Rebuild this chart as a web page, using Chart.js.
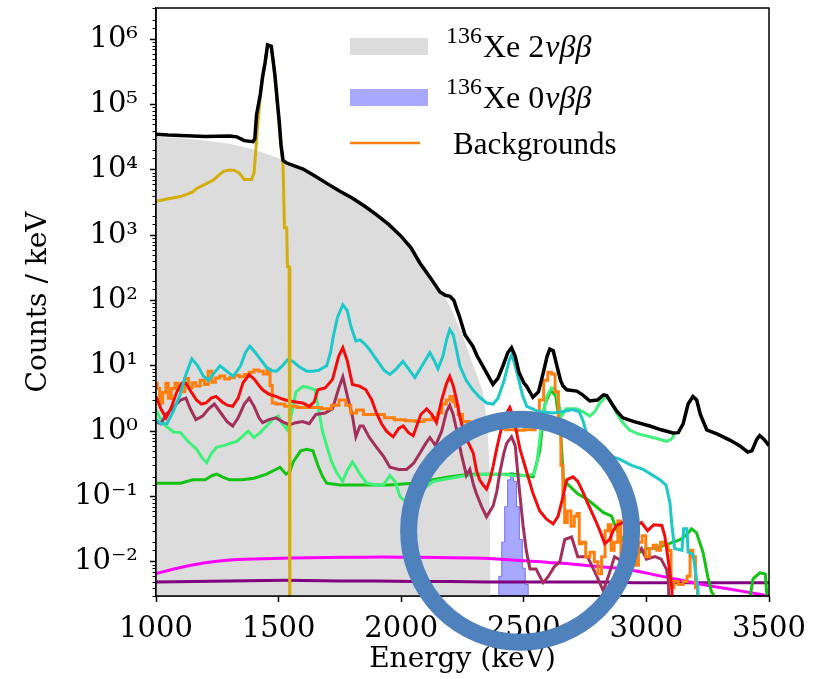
<!DOCTYPE html>
<html>
<head>
<meta charset="utf-8">
<script src="https://cdn.jsdelivr.net/npm/chart.js@4.4.0/dist/chart.umd.min.js"></script>
<style>
  html, body { margin: 0; padding: 0; background: #fff; }
  canvas { display: block; }
</style>
</head>
<body>
<canvas id="spectrum" width="820" height="679"></canvas>
<script>
// axis ranges
const energyRange = [1000, 3500];
const energyStep = 500;
const countRange = [3e-3, 3e6];
const labelledDecades = [-2, -1, 0, 1, 2, 3, 4, 5, 6];

// [energy (keV), counts / keV]
const twoNu = [[1000, 32000], [1100, 30500], [1200, 28000], [1300, 25000], [1400, 20500], [1500, 15000],
  [1530, 12700], [1600, 10000], [1650, 7800], [1700, 5900], [1750, 4600], [1800, 3600], [1850, 2700],
  [1900, 2000], [1950, 1400], [2000, 930], [2050, 570], [2100, 320], [2150, 170], [2200, 80], [2250, 30],
  [2280, 14], [2310, 7], [2333, 4], [2350, 1.5], [2360, 0.3], [2366, 1e-4]];

// 0vbb peak, 12 keV bins
const zeroNu = [[2392, 1e-4], [2404, 0.006], [2416, 0.02], [2428, 0.07], [2440, 0.18], [2452, 0.23],
  [2464, 0.17], [2476, 0.07], [2488, 0.022], [2500, 0.008], [2512, 0.0045], [2524, 1e-4]];

const total = [[1000, 35000], [1050, 34000], [1100, 33500], [1200, 32500], [1300, 33000], [1330, 32000],
  [1360, 28000], [1396, 27000], [1403, 30000], [1410, 70000], [1425, 140000], [1435, 270000], [1445, 440000],
  [1455, 820000], [1470, 780000], [1478, 460000], [1485, 280000], [1495, 110000], [1502, 58000], [1510, 24000],
  [1518, 14000], [1533, 12700], [1600, 10300], [1650, 8000], [1700, 6100], [1750, 4700], [1800, 3700],
  [1850, 2800], [1900, 2050], [1950, 1450], [2000, 960], [2040, 640], [2076, 376], [2120, 220], [2158, 135],
  [2180, 120], [2199, 116], [2215, 100], [2226, 75], [2239, 55], [2260, 30], [2292, 20], [2310, 14],
  [2333, 9.9], [2355, 7], [2374, 5.2], [2395, 6.5], [2415, 10], [2435, 16], [2450, 19], [2465, 14], [2480, 8],
  [2500, 5.5], [2511, 4.9], [2537, 3.3], [2560, 4], [2580, 8], [2595, 14], [2606, 18], [2620, 17], [2635, 10],
  [2650, 6], [2660, 4.9], [2675, 4.3], [2716, 4.1], [2740, 3.6], [2769, 2.9], [2800, 3.0], [2825, 3.6],
  [2838, 3.5], [2860, 2.6], [2880, 2.0], [2904, 1.6], [2950, 1.4], [3014, 1.2], [3060, 1.05], [3108, 0.94],
  [3130, 0.95], [3150, 1.3], [3170, 2.6], [3190, 3.4], [3205, 3.0], [3220, 1.8], [3246, 1.05], [3290, 0.9],
  [3340, 0.73], [3380, 0.6], [3413, 0.48], [3430, 0.5], [3450, 0.75], [3462, 0.86], [3480, 0.75], [3500, 0.6]];

const potassium = [[1000, 3300], [1050, 3600], [1100, 3900], [1125, 4200], [1150, 4600], [1166, 5200],
  [1200, 6000], [1234, 7000], [1260, 8500], [1275, 9500], [1300, 9900], [1320, 9800], [1340, 8900],
  [1360, 7100], [1390, 7100], [1400, 9000], [1405, 16000], [1415, 50000], [1425, 130000], [1435, 260000],
  [1445, 430000], [1455, 800000], [1470, 760000], [1478, 450000], [1485, 270000], [1495, 100000],
  [1502, 50000], [1510, 22000], [1518, 12000], [1524, 1300], [1533, 1300], [1536, 330], [1543, 330],
  [1546, 1e-4]];

const cyanBg = [[1000, 1.5], [1020, 1.3], [1045, 1.3], [1070, 2.0], [1098, 3.6], [1120, 7], [1146, 12.8],
  [1170, 10], [1193, 7], [1214, 6.0], [1240, 8], [1261, 10], [1285, 8.5], [1315, 6.9], [1345, 10], [1365, 16],
  [1383, 20], [1405, 16], [1430, 12], [1451, 9.5], [1470, 8.5], [1492, 8.3], [1515, 10], [1539, 12.6],
  [1560, 11.5], [1587, 9.5], [1615, 8.3], [1641, 8.3], [1665, 8.6], [1696, 10], [1712, 16], [1723, 28],
  [1740, 55], [1762, 86], [1780, 70], [1795, 40], [1815, 24], [1832, 25], [1850, 22], [1870, 18], [1890, 14],
  [1910, 11], [1930, 8.5], [1954, 7.4], [1980, 9], [2007, 11.7], [2030, 9], [2056, 6.6], [2085, 10],
  [2117, 16], [2135, 12], [2150, 9], [2170, 14], [2185, 25], [2198, 36], [2212, 30], [2225, 18], [2239, 10],
  [2265, 6], [2292, 4.3], [2320, 3.3], [2349, 2.7], [2375, 2.6], [2395, 3.2], [2420, 6], [2440, 12],
  [2451, 15], [2465, 10], [2480, 6], [2495, 3.5], [2512, 2.4], [2560, 2.0], [2620, 1.9], [2660, 2.0],
  [2700, 2.15], [2725, 2.0], [2740, 1.5], [2757, 0.9], [2783, 0.54], [2830, 0.45], [2892, 0.37], [2940, 0.30],
  [2987, 0.26], [3055, 0.18], [3080, 0.15], [3096, 0.08], [3104, 0.036], [3115, 0.016], [3145, 0.015],
  [3152, 0.032], [3165, 0.032], [3170, 0.014], [3190, 0.013], [3210, 0.004], [3225, 1e-4]];

const orangeBg = [[1000, 5.4], [1010, 4.5], [1020, 2.7], [1035, 3.9], [1045, 5.4], [1055, 3.2], [1070, 4.5],
  [1085, 5.4], [1095, 4.2], [1110, 4.0], [1125, 6.4], [1140, 4.6], [1155, 5.5], [1170, 4.9], [1190, 6.0],
  [1205, 5.2], [1220, 8.3], [1235, 5.6], [1250, 6.5], [1270, 7.0], [1290, 6.3], [1310, 6.6], [1330, 7.2],
  [1350, 6.8], [1370, 7.4], [1390, 8.0], [1408, 8.6], [1430, 8.3], [1445, 7.5], [1460, 8.8], [1470, 5],
  [1478, 2.7], [1500, 2.6], [1550, 2.4], [1600, 2.3], [1650, 2.3], [1700, 2.2], [1730, 2.5], [1763, 3.0],
  [1785, 2.5], [1804, 1.9], [1832, 2.1], [1860, 1.8], [1913, 1.8], [1950, 1.6], [1995, 1.5], [2040, 1.45],
  [2076, 1.4], [2110, 1.5], [2140, 1.6], [2158, 1.9], [2175, 2.6], [2192, 3.0], [2205, 3.4], [2218, 2.8],
  [2226, 2.4], [2240, 1.8], [2260, 1.4], [2300, 1.25], [2350, 1.15], [2400, 1.1], [2450, 1.05], [2483, 1.03],
  [2520, 1.05], [2537, 1.05], [2555, 1.6], [2572, 3.0], [2590, 6], [2606, 8], [2620, 7.5], [2635, 4],
  [2647, 1.0], [2656, 0.3], [2663, 0.1], [2670, 0.04], [2685, 0.06], [2700, 0.035], [2712, 0.05],
  [2722, 0.055], [2730, 0.019], [2745, 0.02], [2760, 0.012], [2780, 0.014], [2795, 0.01], [2810, 0.0066],
  [2825, 0.012], [2838, 0.03], [2850, 0.037], [2862, 0.015], [2875, 0.02], [2892, 0.042], [2900, 0.012],
  [2915, 0.016], [2935, 0.02], [2950, 0.012], [2960, 0.0089], [2975, 0.02], [2990, 0.025], [3005, 0.012],
  [3020, 0.016], [3035, 0.018], [3050, 0.015], [3065, 0.02], [3080, 0.018], [3096, 0.015], [3105, 0.004],
  [3120, 0.005], [3140, 0.0045], [3160, 0.005], [3172, 0.006], [3184, 0.015], [3195, 0.012], [3205, 0.004],
  [3212, 1e-4]];

const redBg = [[1000, 3.4], [1020, 2.2], [1041, 1.6], [1060, 2.2], [1085, 4], [1105, 5.4], [1122, 5.4],
  [1140, 4.2], [1165, 3.0], [1185, 2.6], [1204, 2.7], [1225, 3.2], [1245, 3.4], [1270, 2.8], [1290, 2.5],
  [1313, 2.4], [1335, 3.2], [1355, 5.5], [1380, 7.3], [1400, 6.3], [1420, 5], [1435, 4.3], [1460, 3.7],
  [1489, 3.4], [1515, 3.1], [1544, 2.9], [1570, 2.8], [1598, 2.7], [1625, 2.4], [1645, 2.8], [1660, 4.3],
  [1690, 4.6], [1720, 6.2], [1745, 14], [1762, 19], [1780, 12], [1801, 5.2], [1830, 4.9], [1856, 4.3],
  [1880, 3.0], [1899, 1.9], [1920, 1.3], [1940, 1.0], [1967, 0.82], [1990, 1.1], [2008, 1.2], [2030, 0.95],
  [2049, 0.85], [2080, 1.8], [2104, 2.2], [2125, 1.8], [2144, 1.35], [2165, 3], [2185, 5.4], [2198, 6.9],
  [2212, 5], [2226, 3.0], [2240, 1.6], [2253, 1.05], [2275, 0.65], [2294, 0.46], [2307, 0.25], [2320, 0.18],
  [2334, 0.15], [2348, 0.13], [2362, 0.18], [2375, 0.29], [2390, 0.55], [2402, 0.87], [2420, 1.6],
  [2443, 2.3], [2460, 1.6], [2472, 0.9], [2484, 0.54], [2510, 0.25], [2538, 0.11], [2565, 0.06],
  [2593, 0.045], [2620, 0.038], [2640, 0.05], [2660, 0.1], [2675, 0.18], [2701, 0.2], [2720, 0.17],
  [2740, 0.12], [2760, 0.08], [2790, 0.045], [2810, 0.03], [2830, 0.019], [2850, 0.022], [2865, 0.03],
  [2878, 0.036], [2905, 0.04], [2930, 0.04], [2960, 0.036], [2980, 0.04], [3005, 0.03], [3030, 0.037],
  [3063, 0.036], [3075, 0.025], [3087, 0.012], [3104, 0.004], [3115, 1e-4]];

const maroonBg = [[1000, 1.4], [1020, 1.3], [1041, 1.8], [1070, 2.3], [1100, 3.0], [1122, 3.2], [1140, 2.2],
  [1163, 1.5], [1190, 1.7], [1215, 2.2], [1238, 2.6], [1260, 2.0], [1290, 1.4], [1313, 1.2], [1335, 1.6],
  [1360, 2.6], [1380, 3.2], [1400, 2.4], [1420, 1.6], [1435, 1.35], [1460, 1.5], [1489, 1.6], [1515, 1.4],
  [1544, 1.25], [1570, 1.35], [1598, 1.4], [1625, 1.3], [1652, 1.8], [1690, 1.9], [1720, 2.2], [1745, 4.5],
  [1762, 6.8], [1780, 3.5], [1801, 1.7], [1815, 0.82], [1832, 1.2], [1845, 1.2], [1870, 0.8], [1899, 0.57],
  [1930, 0.4], [1954, 0.28], [1990, 0.26], [2022, 0.26], [2050, 0.32], [2076, 0.46], [2100, 0.65],
  [2117, 0.8], [2140, 0.6], [2165, 1.0], [2185, 2.0], [2198, 2.5], [2212, 1.8], [2226, 1.05], [2245, 0.45],
  [2266, 0.21], [2280, 0.26], [2295, 0.15], [2307, 0.11], [2328, 0.07], [2348, 0.049], [2375, 0.072],
  [2390, 0.12], [2402, 0.23], [2418, 0.45], [2430, 0.65], [2450, 0.82], [2465, 0.6], [2480, 0.15],
  [2497, 0.036], [2510, 0.015], [2525, 0.0078], [2550, 0.0078], [2565, 0.006], [2579, 0.0048], [2600, 0.006],
  [2625, 0.0085], [2647, 0.01], [2667, 0.022], [2695, 0.024], [2720, 0.012], [2760, 0.012], [2800, 0.0058],
  [2824, 0.0036], [2845, 0.006], [2870, 0.012], [2905, 0.01], [2940, 0.011], [2980, 0.016], [3000, 0.011],
  [3035, 0.012], [3060, 0.011], [3082, 0.0077], [3090, 0.005], [3100, 1e-4]];

const limeBg = [[1000, 2.1], [1020, 1.5], [1040, 1.2], [1071, 0.97], [1100, 0.95], [1130, 0.7], [1166, 0.53],
  [1190, 0.38], [1207, 0.33], [1225, 0.45], [1248, 0.57], [1275, 0.6], [1302, 0.65], [1330, 0.7],
  [1355, 0.85], [1376, 1.0], [1400, 0.8], [1425, 0.95], [1451, 1.2], [1475, 1.5], [1499, 1.7], [1515, 1.3],
  [1536, 1.05], [1555, 2.0], [1571, 4.0], [1598, 4.8], [1620, 4.7], [1648, 4.3], [1660, 2.5], [1679, 1.0],
  [1696, 0.6], [1715, 0.35], [1737, 0.23], [1761, 0.17], [1780, 0.25], [1801, 0.34], [1815, 0.28],
  [1832, 0.22], [1859, 0.16], [1900, 0.15], [1927, 0.15], [1954, 0.21], [1975, 0.17], [1995, 0.1],
  [2022, 0.08], [2060, 0.1], [2100, 0.14], [2130, 0.17], [2200, 0.19], [2266, 0.21], [2340, 0.22],
  [2402, 0.22], [2460, 0.21], [2511, 0.21], [2540, 0.22], [2552, 0.3], [2565, 0.74], [2579, 1.9],
  [2595, 3.5], [2613, 4.6], [2630, 4.4], [2654, 1.7], [2673, 2.2], [2715, 2.2], [2740, 2.0], [2769, 1.7],
  [2790, 2.0], [2810, 2.7], [2837, 3.4], [2855, 2.8], [2878, 1.9], [2900, 1.4], [2932, 1.03], [2970, 0.9],
  [3014, 0.82], [3050, 0.76], [3082, 0.7], [3100, 0.75], [3115, 0.88]];

const greenBg = [[1000, 0.16], [1050, 0.16], [1100, 0.16], [1150, 0.18], [1200, 0.18], [1230, 0.21],
  [1248, 0.22], [1270, 0.2], [1300, 0.18], [1350, 0.18], [1400, 0.19], [1451, 0.22], [1480, 0.25],
  [1506, 0.28], [1530, 0.22], [1545, 0.24], [1560, 0.34], [1590, 0.5], [1614, 0.53], [1640, 0.5],
  [1660, 0.3], [1680, 0.2], [1696, 0.16], [1750, 0.15], [1850, 0.15], [1950, 0.15], [2050, 0.16],
  [2130, 0.18], [2200, 0.2], [2280, 0.22], [2400, 0.22], [2460, 0.22], [2538, 0.2], [2565, 0.5], [2585, 2.5],
  [2610, 4.2], [2630, 3.5], [2650, 1.0], [2662, 0.17], [2675, 0.16], [2720, 0.11], [2760, 0.09],
  [2824, 0.057], [2858, 0.05], [2880, 0.03], [2919, 0.018], [2973, 0.014], [3006, 0.016], [3041, 0.016],
  [3075, 0.018], [3110, 0.02], [3140, 0.022], [3168, 0.027], [3184, 0.032], [3204, 0.028], [3231, 0.014],
  [3250, 0.006], [3265, 0.0035], [3290, 0.0025], [3420, 0.0025], [3435, 0.0055], [3462, 0.0068],
  [3485, 0.0065], [3495, 0.002]];

const magentaBg = [[1000, 0.0066], [1100, 0.0082], [1200, 0.0097], [1300, 0.0107], [1400, 0.0111],
  [1550, 0.0114], [1700, 0.0117], [1850, 0.0118], [2000, 0.0118], [2150, 0.0117], [2300, 0.0114],
  [2470, 0.0106], [2600, 0.0098], [2673, 0.0094], [2800, 0.0085], [2919, 0.0077], [3055, 0.0061],
  [3190, 0.0048], [3326, 0.0039], [3462, 0.0032], [3500, 0.003]];

const purpleBg = [[1000, 0.0049], [1150, 0.005], [1300, 0.0051], [1450, 0.0052], [1600, 0.0052],
  [1750, 0.0051], [1900, 0.0051], [2050, 0.005], [2200, 0.005], [2350, 0.0049], [2500, 0.0049],
  [2650, 0.0049], [2800, 0.0049], [2950, 0.0048], [3100, 0.0048], [3250, 0.0048], [3400, 0.0048],
  [3500, 0.0048]];

const SUP = {'-': '\u207B', '0': '\u2070', '1': '\u00B9', '2': '\u00B2', '3': '\u00B3', '4': '\u2074',
  '5': '\u2075', '6': '\u2076', '7': '\u2077', '8': '\u2078', '9': '\u2079'};

function decadeOf(v) {
  const d = Math.log10(v);
  return Math.abs(d - Math.round(d)) < 1e-6 ? Math.round(d) : null;
}

function pts(rows) {
  return rows.map(r => ({x: r[0], y: r[1]}));
}

function trace(label, rows, color, width, order, extra) {
  return Object.assign({
    label: label,
    data: pts(rows),
    borderColor: color,
    backgroundColor: color,
    borderWidth: width,
    pointRadius: 0,
    fill: false,
    tension: 0,
    order: order
  }, extra || {});
}

function noEdgePadding(scale) {
  scale.paddingTop = 0;
  scale.paddingBottom = 0;
  scale.paddingLeft = 0;
  scale.paddingRight = 0;
}

// outer frame + short minor ticks on the log axis
const frame = {
  id: 'frame',
  afterDatasetsDraw(chart) {
    const {ctx, chartArea: a} = chart;
    const y = chart.scales.y;
    ctx.save();
    ctx.strokeStyle = '#000';
    ctx.lineWidth = 1.5;
    ctx.strokeRect(a.left, a.top, a.right - a.left, a.bottom - a.top);
    ctx.lineWidth = 1;
    ctx.beginPath();
    y.ticks.forEach(t => {
      if (decadeOf(t.value) !== null) return;
      const py = Math.round(y.getPixelForValue(t.value)) + 0.5;
      ctx.moveTo(a.left - 3.5, py);
      ctx.lineTo(a.left, py);
    });
    ctx.stroke();
    ctx.restore();
  }
};

// legend drawn inside the plot area
const insetLegend = {
  id: 'insetLegend',
  afterDraw(chart) {
    const ctx = chart.ctx;
    ctx.save();
    ctx.fillStyle = '#dcdcdc';
    ctx.fillRect(350, 38, 78, 17);
    ctx.fillStyle = 'rgba(110,110,255,0.6)';
    ctx.fillRect(350, 89, 78, 17);
    ctx.strokeStyle = '#ff7f0e';
    ctx.lineWidth = 2.5;
    ctx.beginPath();
    ctx.moveTo(350, 143);
    ctx.lineTo(420, 143);
    ctx.stroke();

    ctx.fillStyle = '#000';
    ctx.textBaseline = 'alphabetic';
    ctx.textAlign = 'left';
    const isotope = (mode, base) => {
      let x = 446;
      ctx.font = '24px "Liberation Serif"';
      ctx.fillText('136', x, base - 14);
      x += ctx.measureText('136').width + 1;
      ctx.font = '32px "Liberation Serif"';
      ctx.fillText('Xe ' + mode, x, base);
      x += ctx.measureText('Xe ' + mode).width + 1;
      ctx.font = 'italic 32px "Liberation Serif"';
      ctx.fillText('\u03BD\u03B2\u03B2', x, base);
    };
    isotope('2', 57);
    isotope('0', 108);
    ctx.font = '31px "Liberation Serif"';
    ctx.fillText('Backgrounds', 453, 154);
    ctx.restore();
  }
};

// ring around the 0vbb region of interest
const roiRing = {
  id: 'roiRing',
  afterDraw(chart) {
    const {ctx, scales} = chart;
    const cx = scales.x.getPixelForValue(2485);
    const cy = scales.y.getPixelForValue(0.03);
    ctx.save();
    ctx.strokeStyle = '#4f81bd';
    ctx.lineWidth = 17;
    ctx.beginPath();
    ctx.arc(cx, cy, 111.5, 0, Math.PI * 2);
    ctx.stroke();
    ctx.restore();
  }
};

const serif = 'DejaVu Serif';

new Chart(document.getElementById('spectrum'), {
  type: 'line',
  data: {
    datasets: [
      trace('Total', total, '#000000', 3.5, 1),
      trace('40K', potassium, '#d4ae0c', 3, 2),
      trace('bg cyan', cyanBg, '#1ec8c8', 3, 3),
      trace('bg red', redBg, '#f20d0d', 3, 4),
      trace('Backgrounds', orangeBg, '#ff7f0e', 3, 5, {stepped: 'middle'}),
      trace('bg maroon', maroonBg, '#a3305a', 3, 6),
      trace('bg lime', limeBg, '#3ff07a', 3, 7),
      trace('bg green', greenBg, '#14c214', 3, 8),
      trace('bg magenta', magentaBg, '#ff00ff', 3, 9, {tension: 0.3}),
      trace('bg purple', purpleBg, '#800080', 3, 10, {tension: 0.3}),
      trace('136Xe 0vbb', zeroNu, 'rgba(90,90,240,0.8)', 1, 11,
        {fill: 'start', stepped: 'middle', backgroundColor: 'rgba(110,110,255,0.6)'}),
      trace('136Xe 2vbb', twoNu, 'rgba(0,0,0,0)', 0, 12,
        {fill: 'start', backgroundColor: '#dcdcdc'})
    ]
  },
  options: {
    responsive: false,
    animation: false,
    devicePixelRatio: 1,
    layout: {padding: {top: 8, right: 51, left: 0, bottom: 0}},
    plugins: {
      legend: {display: false},
      tooltip: {enabled: false}
    },
    scales: {
      x: {
        type: 'linear',
        min: energyRange[0],
        max: energyRange[1],
        afterFit(scale) { scale.height = 83; noEdgePadding(scale); },
        ticks: {
          stepSize: energyStep,
          color: '#000',
          padding: 10,
          maxRotation: 0,
          font: {family: serif, size: 29},
          callback: v => String(v)
        },
        grid: {drawOnChartArea: false, tickLength: 6, tickWidth: 1.5, tickColor: '#000'},
        border: {display: true, color: '#000', width: 1.5},
        title: {
          display: true,
          text: 'Energy (keV)',
          color: '#000',
          font: {family: serif, size: 28},
          padding: {top: 0, bottom: 2}
        }
      },
      y: {
        type: 'logarithmic',
        min: countRange[0],
        max: countRange[1],
        afterFit(scale) { scale.width = 156; noEdgePadding(scale); },
        ticks: {
          autoSkip: false,
          color: '#000',
          padding: 12,
          font: {family: serif, size: 29},
          callback: v => {
            const d = decadeOf(v);
            if (d === null || !labelledDecades.includes(d)) return '';
            return '10' + String(d).split('').map(c => SUP[c]).join('');
          }
        },
        grid: {
          drawOnChartArea: false,
          tickLength: 6,
          tickWidth: 1.5,
          tickColor: ctx => (ctx.tick && decadeOf(ctx.tick.value) !== null) ? '#000' : 'rgba(0,0,0,0)'
        },
        border: {display: true, color: '#000', width: 1.5},
        title: {
          display: true,
          text: 'Counts / keV',
          color: '#000',
          font: {family: serif, size: 28},
          padding: {top: 22, bottom: 0}
        }
      }
    }
  },
  plugins: [frame, insetLegend, roiRing]
});
</script>
</body>
</html>
